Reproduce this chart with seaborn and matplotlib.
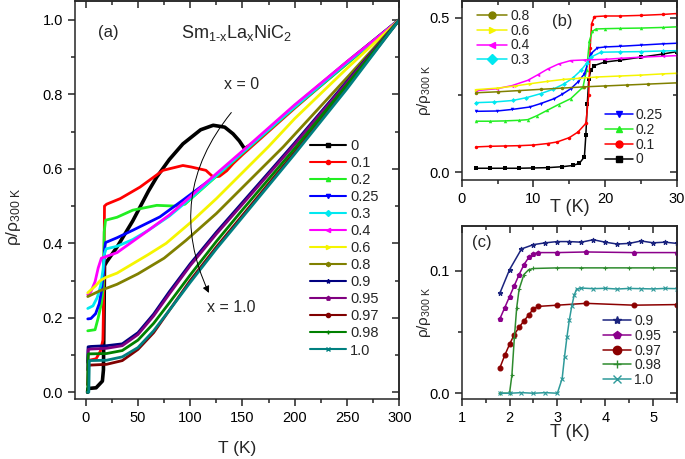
import matplotlib
matplotlib.use('Agg')
import matplotlib.pyplot as plt
import seaborn as sns
from matplotlib.lines import Line2D
from matplotlib.ticker import MultipleLocator

# ---------------- panel (a): 2 - 300 K ----------------
a_labels = ['0', '0.1', '0.2', '0.25', '0.3', '0.4', '0.6', '0.8',
            '0.9', '0.95', '0.97', '0.98', '1.0']
a_colors = ['#000000', '#ff0000', '#22ee22', '#0000ff', '#00e8f0', '#ff00ff',
            '#f5f500', '#808000', '#000080', '#800080', '#800000', '#008000', '#008080']
a_markers = ['s', 'o', '^', 'v', 'D', '<', '>', 'h', '*', 'p', 'o', '+', 'x']

t_00 = [1.8, 2.2, 10, 16, 17, 17.5, 18, 20, 30, 45, 60, 68, 80, 93, 110, 122, 133, 141, 147, 152, 160, 200, 250, 300]
r_00 = [0.0, 0.01, 0.012, 0.03, 0.06, 0.2, 0.34, 0.35, 0.39, 0.46, 0.54, 0.578, 0.625, 0.667, 0.705, 0.717, 0.712, 0.694, 0.675, 0.654, 0.668, 0.768, 0.886, 1.0]
t_01 = [2, 10, 14, 16.5, 17.5, 18, 20, 33, 52, 74, 93, 101, 115, 122, 128, 135, 141, 150, 200, 250, 300]
r_01 = [0.085, 0.09, 0.11, 0.14, 0.3, 0.5, 0.505, 0.52, 0.551, 0.596, 0.609, 0.605, 0.596, 0.578, 0.58, 0.595, 0.614, 0.638, 0.763, 0.884, 1.0]
t_02 = [2, 9, 12, 15, 16.8, 17.7, 19, 30, 45, 68, 85, 95, 100, 125, 150, 200, 250, 300]
r_02 = [0.165, 0.168, 0.2, 0.238, 0.28, 0.43, 0.462, 0.47, 0.489, 0.502, 0.5, 0.505, 0.518, 0.58, 0.642, 0.765, 0.882, 1.0]
t_025 = [2, 5, 9.5, 13, 15, 17, 18, 19, 30, 45, 71, 93, 125, 150, 200, 250, 300]
r_025 = [0.197, 0.198, 0.211, 0.238, 0.27, 0.318, 0.383, 0.402, 0.415, 0.435, 0.471, 0.516, 0.583, 0.645, 0.768, 0.885, 1.0]
t_03 = [2, 7, 11, 14.3, 16.6, 18, 19.5, 30, 45, 60, 80, 100, 125, 150, 200, 250, 300]
r_03 = [0.225, 0.232, 0.254, 0.286, 0.329, 0.372, 0.385, 0.392, 0.41, 0.435, 0.473, 0.52, 0.582, 0.644, 0.767, 0.885, 1.0]
t_04 = [2, 5, 9, 12, 15, 20, 30, 45, 60, 80, 100, 125, 150, 175, 200, 250, 300]
r_04 = [0.262, 0.27, 0.297, 0.334, 0.36, 0.365, 0.375, 0.405, 0.435, 0.476, 0.525, 0.587, 0.648, 0.71, 0.772, 0.888, 1.0]
t_06 = [2, 9.5, 14, 19, 30, 45, 60, 77, 100, 125, 150, 175, 200, 250, 300]
r_06 = [0.267, 0.286, 0.3, 0.308, 0.32, 0.345, 0.37, 0.4, 0.455, 0.52, 0.59, 0.66, 0.735, 0.87, 1.0]
t_08 = [2, 14, 30, 50, 75, 96, 125, 150, 189, 250, 300]
r_08 = [0.257, 0.273, 0.29, 0.318, 0.36, 0.408, 0.48, 0.55, 0.659, 0.845, 1.0]
t_09 = [1.8, 2.3, 5, 20, 35, 50, 65, 80, 100, 125, 150, 200, 250, 300]
r_09 = [0.08, 0.122, 0.123, 0.125, 0.13, 0.16, 0.21, 0.27, 0.345, 0.43, 0.51, 0.67, 0.835, 1.0]
t_095 = [1.8, 2.5, 5, 20, 35, 50, 65, 80, 100, 125, 150, 200, 250, 300]
r_095 = [0.06, 0.115, 0.116, 0.118, 0.125, 0.155, 0.205, 0.264, 0.34, 0.425, 0.505, 0.666, 0.832, 1.0]
t_097 = [1.8, 2.6, 5, 20, 35, 50, 65, 80, 100, 125, 150, 200, 250, 300]
r_097 = [0.02, 0.072, 0.073, 0.075, 0.085, 0.115, 0.16, 0.22, 0.3, 0.39, 0.475, 0.645, 0.82, 1.0]
t_098 = [1.8, 2.0, 2.1, 2.5, 20, 35, 50, 65, 80, 100, 125, 150, 200, 250, 300]
r_098 = [0.0, 0.0, 0.08, 0.103, 0.104, 0.112, 0.14, 0.185, 0.24, 0.315, 0.405, 0.49, 0.655, 0.826, 1.0]
t_10 = [1.8, 3.0, 3.5, 20, 35, 50, 65, 80, 100, 125, 150, 200, 250, 300]
r_10 = [0.0, 0.0, 0.085, 0.086, 0.095, 0.12, 0.165, 0.22, 0.295, 0.385, 0.47, 0.64, 0.815, 1.0]

a_t = [t_00, t_01, t_02, t_025, t_03, t_04, t_06, t_08, t_09, t_095, t_097, t_098, t_10]
a_r = [r_00, r_01, r_02, r_025, r_03, r_04, r_06, r_08, r_09, r_095, r_097, r_098, r_10]

# ---------------- panel (b): 2 - 30 K ----------------
b_t_00 = [2, 4, 6, 8, 10, 12, 14, 15.5, 16.4, 17.1, 17.3, 17.5, 17.7, 18.0, 18.5, 19.9, 22, 25, 28, 30]
b_r_00 = [0.013, 0.013, 0.013, 0.013, 0.014, 0.015, 0.018, 0.022, 0.029, 0.05, 0.12, 0.22, 0.30, 0.33, 0.345, 0.356, 0.362, 0.372, 0.382, 0.39]
b_t_01 = [2, 4, 6, 8, 10, 12, 13.3, 15, 16.2, 17.3, 17.7, 17.9, 18.1, 18.5, 20, 22, 25, 28, 30]
b_r_01 = [0.082, 0.084, 0.085, 0.086, 0.088, 0.093, 0.098, 0.112, 0.13, 0.158, 0.25, 0.4, 0.48, 0.503, 0.505, 0.505, 0.507, 0.51, 0.513]
b_t_02 = [2, 4, 6, 8, 9.2, 10.5, 11.9, 13.5, 15.2, 16.9, 17.4, 17.8, 18.2, 18.7, 20, 22, 25, 28, 30]
b_r_02 = [0.165, 0.165, 0.166, 0.168, 0.17, 0.183, 0.2, 0.219, 0.238, 0.275, 0.33, 0.425, 0.455, 0.463, 0.464, 0.465, 0.466, 0.468, 0.47]
b_t_025 = [2, 4.9, 7, 9.5, 11, 12.9, 14, 15.2, 16.2, 17.1, 18, 18.9, 20, 22, 25, 28, 30]
b_r_025 = [0.197, 0.198, 0.203, 0.211, 0.222, 0.238, 0.252, 0.27, 0.292, 0.318, 0.383, 0.402, 0.405, 0.407, 0.411, 0.415, 0.417]
b_t_03 = [2, 4.5, 7.1, 9, 11, 12.7, 14.3, 15.5, 16.6, 17.4, 18, 19.4, 22, 25, 28, 30]
b_r_03 = [0.225, 0.227, 0.232, 0.241, 0.254, 0.268, 0.286, 0.305, 0.329, 0.352, 0.372, 0.388, 0.389, 0.39, 0.392, 0.393]
b_t_04 = [2, 4.9, 7, 9.2, 10.6, 12, 13.5, 15.2, 17.1, 20, 22, 25, 28, 30]
b_r_04 = [0.264, 0.27, 0.28, 0.297, 0.315, 0.334, 0.35, 0.361, 0.363, 0.365, 0.368, 0.372, 0.375, 0.377]
b_t_06 = [2, 5, 7.5, 9.5, 12, 14.2, 16.5, 18.9, 22, 25, 28, 30]
b_r_06 = [0.267, 0.272, 0.279, 0.286, 0.294, 0.3, 0.304, 0.308, 0.311, 0.314, 0.318, 0.32]
b_t_08 = [2, 5, 8, 11, 14, 17, 20, 23, 26, 30]
b_r_08 = [0.257, 0.26, 0.264, 0.268, 0.272, 0.276, 0.279, 0.282, 0.285, 0.289]

b_labels = ['0', '0.1', '0.2', '0.25', '0.3', '0.4', '0.6', '0.8']
b_colors = ['#000000', '#ff0000', '#22ee22', '#0000ff', '#00e8f0', '#ff00ff', '#f5f500', '#808000']
b_markers = ['s', 'o', '^', 'v', 'D', '<', '>', 'o']
b_t = [b_t_00, b_t_01, b_t_02, b_t_025, b_t_03, b_t_04, b_t_06, b_t_08]
b_r = [b_r_00, b_r_01, b_r_02, b_r_025, b_r_03, b_r_04, b_r_06, b_r_08]

# ---------------- panel (c): 1 - 5.5 K ----------------
c_t_09 = [1.8, 2.0, 2.25, 2.5, 2.75, 3.0, 3.25, 3.5, 3.75, 4.0, 4.25, 4.5, 4.75, 5.0, 5.25, 5.5]
c_r_09 = [0.082, 0.101, 0.118, 0.1215, 0.123, 0.124, 0.124, 0.1235, 0.1255, 0.1235, 0.122, 0.1225, 0.1245, 0.123, 0.1235, 0.1225]
c_t_095 = [1.8, 1.9, 2.0, 2.1, 2.2, 2.3, 2.4, 2.5, 2.6, 3.0, 3.6, 4.6, 5.5]
c_r_095 = [0.061, 0.07, 0.079, 0.088, 0.097, 0.105, 0.111, 0.114, 0.115, 0.115, 0.1155, 0.115, 0.115]
c_t_097 = [1.8, 1.9, 2.0, 2.1, 2.2, 2.3, 2.4, 2.5, 2.6, 3.0, 3.6, 4.6, 5.5]
c_r_097 = [0.021, 0.031, 0.04, 0.048, 0.054, 0.059, 0.064, 0.069, 0.071, 0.072, 0.0735, 0.072, 0.0725]
c_t_098 = [1.8, 2.0, 2.05, 2.1, 2.15, 2.2, 2.3, 2.4, 2.5, 3.0, 3.5, 4.0, 4.5, 5.0, 5.5]
c_r_098 = [0.0, 0.0, 0.015, 0.045, 0.07, 0.085, 0.097, 0.101, 0.102, 0.1025, 0.1025, 0.1025, 0.1025, 0.1025, 0.1025]
c_t_10 = [1.8, 2.0, 2.25, 2.5, 2.75, 3.0, 3.1, 3.15, 3.2, 3.25, 3.3, 3.35, 3.4, 3.5, 3.75, 4.0, 4.25, 4.5, 4.75, 5.0, 5.25, 5.5]
c_r_10 = [0.0, 0.0, 0.0005, 0.0, 0.0005, 0.0, 0.012, 0.03, 0.046, 0.06, 0.071, 0.08, 0.085, 0.086, 0.0855, 0.0858, 0.0852, 0.0857, 0.0855, 0.0853, 0.0857, 0.0855]

c_labels = ['0.9', '0.95', '0.97', '0.98', '1.0']
c_colors = ['#1a237e', '#8b008b', '#8b0000', '#2e8b2e', '#2e9a9a']
c_markers = ['*', 'p', 'o', '+', 'x']
c_t = [c_t_09, c_t_095, c_t_097, c_t_098, c_t_10]
c_r = [c_r_09, c_r_095, c_r_097, c_r_098, c_r_10]

ylab = r'ρ/ρ$_{\mathregular{300\ K}}$'

sns.set_style('ticks')
plt.rcParams['font.family'] = ['Liberation Sans', 'DejaVu Sans']
plt.rcParams['mathtext.fontset'] = 'custom'
plt.rcParams['mathtext.rm'] = 'Liberation Sans'
plt.rcParams['mathtext.it'] = 'Liberation Sans:italic'
plt.rcParams['axes.linewidth'] = 1.1


def style_axes(ax, xmaj, xmin, ymaj, ymin, size):
    ax.xaxis.set_major_locator(MultipleLocator(xmaj))
    ax.xaxis.set_minor_locator(MultipleLocator(xmin))
    ax.yaxis.set_major_locator(MultipleLocator(ymaj))
    ax.yaxis.set_minor_locator(MultipleLocator(ymin))
    ax.tick_params(which='both', direction='out', labelsize=size, width=1.1, colors='#222222',
                   labelcolor='black')
    ax.tick_params(which='major', length=5)
    ax.tick_params(which='minor', length=3)
    # mirrored ticks on top / right point inwards
    sx = ax.secondary_xaxis('top')
    sx.xaxis.set_major_locator(MultipleLocator(xmaj))
    sx.xaxis.set_minor_locator(MultipleLocator(xmin))
    sx.tick_params(which='both', direction='in', labeltop=False, width=1.1)
    sx.tick_params(which='major', length=5)
    sx.tick_params(which='minor', length=3)
    sy = ax.secondary_yaxis('right')
    sy.yaxis.set_major_locator(MultipleLocator(ymaj))
    sy.yaxis.set_minor_locator(MultipleLocator(ymin))
    sy.tick_params(which='both', direction='in', labelright=False, width=1.1)
    sy.tick_params(which='major', length=5)
    sy.tick_params(which='minor', length=3)


fig = plt.figure(figsize=(6.85, 4.59), dpi=100)
ax_a = fig.add_axes([0.1095, 0.130, 0.4734, 0.868])
ax_b = fig.add_axes([0.674, 0.608, 0.3143, 0.390])
ax_c = fig.add_axes([0.674, 0.131, 0.3143, 0.376])

# ===== (a) =====
for t, r, c, lab in zip(a_t, a_r, a_colors, a_labels):
    sns.lineplot(x=t, y=r, ax=ax_a, color=c, lw=2.6 if lab == '0' else 2.0)
ax_a.set_xlim(-10.2, 300)
ax_a.set_ylim(-0.019, 1.051)
style_axes(ax_a, 50, 25, 0.2, 0.1, 10.5)
ax_a.set_xlabel('T (K)', fontsize=12.5)
ax_a.set_ylabel(ylab, fontsize=12.5)
ax_a.xaxis.set_label_coords(0.5, -0.105)
ax_a.yaxis.set_label_coords(-0.16, 0.457)
handles = [Line2D([], [], color=c, lw=1.5, marker=m, ms=3) for c, m in zip(a_colors, a_markers)]
ax_a.legend(handles, a_labels, loc='upper left', bbox_to_anchor=(0.7246, 0.654), frameon=False,
            fontsize=10.5, handlelength=2.5, handletextpad=0.25, labelspacing=0.21,
            borderpad=0, borderaxespad=0)
ax_a.text(21.3, 0.967, '(a)', ha='center', va='center', fontsize=12)
ax_a.text(144, 0.966, r'Sm$_{\text{1-x}}$La$_{\mathregular{x}}$NiC$_{\mathregular{2}}$',
          ha='center', va='center', fontsize=13)
ax_a.text(149.5, 0.826, 'x = 0', ha='center', va='center', fontsize=11.5)
ax_a.text(139.5, 0.227, 'x = 1.0', ha='center', va='center', fontsize=11.5)
ax_a.annotate('', xy=(119, 0.26), xytext=(141, 0.757),
              arrowprops=dict(arrowstyle='-|>', color='black', lw=0.7,
                              connectionstyle='arc3,rad=0.32', mutation_scale=10))

# ===== (b) =====
for t, r, c, m in zip(b_t, b_r, b_colors, b_markers):
    sns.lineplot(x=t, y=r, ax=ax_b, color=c, lw=1.1, ls='-', marker=m, markersize=2.5,
                 markeredgewidth=0)
ax_b.set_xlim(0, 30)
ax_b.set_ylim(-0.0247, 0.5537)
style_axes(ax_b, 10, 5, 0.5, 0.25, 10.5)
ax_b.set_xlabel('T (K)', fontsize=13)
ax_b.set_ylabel(ylab, fontsize=11)
ax_b.xaxis.set_label_coords(0.503, -0.105)
ax_b.yaxis.set_label_coords(-0.135, 0.5)
h_top = [Line2D([], [], color=b_colors[i], lw=1.1, marker=b_markers[i], ms=5) for i in [7, 6, 5, 4]]
leg1 = ax_b.legend(h_top, [b_labels[i] for i in [7, 6, 5, 4]], loc='upper left',
                   bbox_to_anchor=(0.0697, 0.955), frameon=False, fontsize=10,
                   handlelength=2.2, handletextpad=0.2, labelspacing=0.05,
                   borderpad=0, borderaxespad=0)
ax_b.add_artist(leg1)
h_bot = [Line2D([], [], color=b_colors[i], lw=1.1, marker=b_markers[i], ms=5) for i in [3, 2, 1, 0]]
ax_b.legend(h_bot, [b_labels[i] for i in [3, 2, 1, 0]], loc='upper left',
            bbox_to_anchor=(0.666, 0.40), frameon=False, fontsize=10,
            handlelength=2.0, handletextpad=0.2, labelspacing=0.05,
            borderpad=0, borderaxespad=0)
ax_b.text(14.0, 0.486, '(b)', ha='center', va='center', fontsize=12)

# ===== (c) =====
for t, r, c, m in zip(c_t, c_r, c_colors, c_markers):
    sns.lineplot(x=t, y=r, ax=ax_c, color=c, lw=1.1, ls='-', marker=m, markersize=3.5,
                 markeredgewidth=0.8, markeredgecolor=c, markerfacecolor=c)
ax_c.set_xlim(1, 5.5)
ax_c.set_ylim(-0.0046, 0.1365)
style_axes(ax_c, 1, 0.5, 0.1, 0.05, 10.5)
ax_c.set_xlabel('T (K)', fontsize=13)
ax_c.set_ylabel(ylab, fontsize=11)
ax_c.xaxis.set_label_coords(0.5, -0.145)
ax_c.yaxis.set_label_coords(-0.135, 0.5)
h_c = [Line2D([], [], color=c, lw=1.1, marker=m, ms=6) for c, m in zip(c_colors, c_markers)]
ax_c.legend(h_c, c_labels, loc='upper left', bbox_to_anchor=(0.656, 0.491), frameon=False,
            fontsize=10, handlelength=2.0, handletextpad=0.25, labelspacing=0.05,
            borderpad=0, borderaxespad=0)
ax_c.text(1.42, 0.123, '(c)', ha='center', va='center', fontsize=12)

fig.savefig('out.png', dpi=100)
